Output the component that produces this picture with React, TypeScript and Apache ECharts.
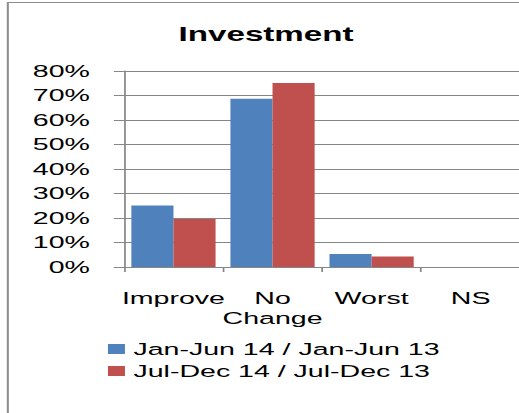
import React, { useEffect, useRef } from 'react';
import * as echarts from 'echarts';

const categories = ['Improve', 'No Change', 'Worst', 'NS'];
const seriesNames = ['Jan-Jun 14 / Jan-Jun 13', 'Jul-Dec 14 / Jul-Dec 13'];
const firstHalf = [25.1, 68.7, 5.3, 0];
const secondHalf = [19.6, 75.1, 4.3, 0];
const yMin = 0;
const yMax = 80;
const yStep = 10;

const SX = 1.7; // the reference is horizontally stretched
const FONT = 'Liberation Sans';
const GRAY = '#868686';

export default function App() {
  const ref = useRef<HTMLDivElement>(null);
  useEffect(() => {
    if (!ref.current) return;
    const chart = echarts.init(ref.current, undefined, { renderer: 'svg' });
    chart.setOption({
      animation: false,
      backgroundColor: '#fff',
      textStyle: { fontFamily: FONT },
      title: {
        text: 'Investment',
        left: 151.5,
        textAlign: 'center',
        top: 19,
        textStyle: { fontFamily: FONT, fontSize: 19.5, fontWeight: 'bold', color: '#000' },
      },
      graphic: [
        {
          type: 'rect',
          silent: true,
          shape: { x: 4.6, y: 2.5, width: 400, height: 500 },
          style: { fill: 'none', stroke: '#8c8c8c', lineWidth: 1.2 },
        },
      ],
      legend: {
        orient: 'vertical',
        left: 58.5,
        top: 335.5,
        itemWidth: 10,
        itemHeight: 10,
        itemGap: 5,
        icon: 'rect',
        textStyle: { fontFamily: FONT, fontSize: 16.8, color: '#000' },
        data: seriesNames,
      },
      grid: { left: 72.9, top: 71, width: 233.6, height: 196 },
      xAxis: {
        type: 'category',
        data: categories,
        axisLine: { lineStyle: { color: GRAY, width: 1 } },
        axisTick: { show: true, length: 5, alignWithLabel: false, lineStyle: { color: GRAY } },
        axisLabel: {
          interval: 0,
          margin: 21,
          fontFamily: FONT,
          fontSize: 16.8,
          lineHeight: 20,
          color: '#000',
          formatter: (v: string) => v.replace(' ', '\n'),
        },
      },
      yAxis: {
        type: 'value',
        min: yMin,
        max: yMax,
        interval: yStep,
        axisLine: { show: true, lineStyle: { color: GRAY, width: 1 } },
        axisTick: { show: true, length: 5.9, lineStyle: { color: GRAY } },
        splitLine: { show: true, lineStyle: { color: GRAY, width: 1 } },
        axisLabel: {
          margin: 20,
          fontFamily: FONT,
          fontSize: 16.8,
          color: '#000',
          formatter: '{value}%',
        },
      },
      series: [
        {
          name: seriesNames[0],
          type: 'bar',
          data: firstHalf,
          barGap: '0%',
          barCategoryGap: '15%',
          itemStyle: { color: '#4F81BD' },
        },
        {
          name: seriesNames[1],
          type: 'bar',
          data: secondHalf,
          barGap: '0%',
          barCategoryGap: '15%',
          itemStyle: { color: '#C0504D' },
        },
      ],
    });
    return () => chart.dispose();
  }, []);
  return (
    <div
      style={{
        position: 'fixed',
        left: 0,
        top: 0,
        width: 519,
        height: 413,
        overflow: 'hidden',
        background: '#fff',
      }}
    >
      <div
        ref={ref}
        style={{
          width: 306,
          height: 413,
          transform: `scaleX(${SX})`,
          transformOrigin: '0 0',
        }}
      />
    </div>
  );
}
